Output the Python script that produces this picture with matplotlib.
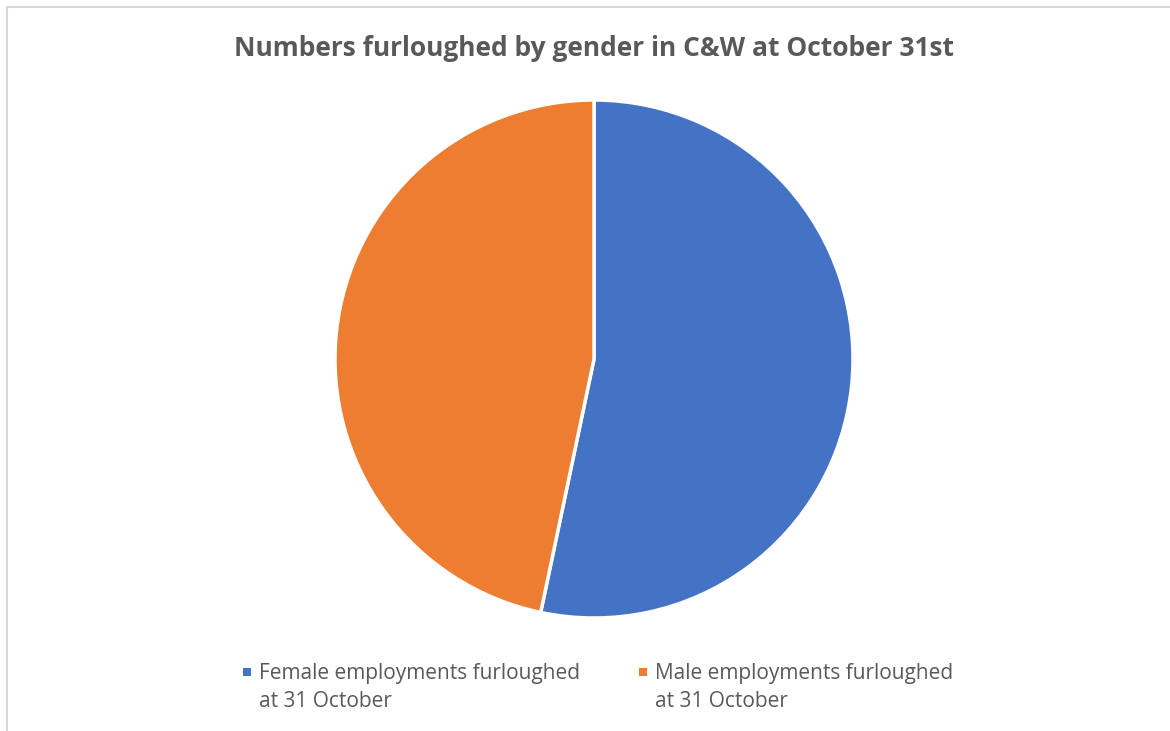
import matplotlib.pyplot as plt
from matplotlib.patches import Rectangle

labels = ["Female employments furloughed\nat 31 October", "Male employments furloughed\nat 31 October"]
shares = [53.3, 46.7]
colors = ["#4472C4", "#ED7D31"]

W, H = 1170, 731
fig = plt.figure(figsize=(W / 100, H / 100), dpi=100)

def fx(px):
    return px / W

def fy(py):
    return 1 - py / H

# light grey chart frame, runs off the right and bottom edge
fig.patches.append(Rectangle((fx(7), -0.1), 1.2, fy(7) + 0.1, transform=fig.transFigure,
                             fill=False, edgecolor="#d9d9d9", linewidth=1.5))

cx, cy, r = 594, 359, 259
ax = fig.add_axes([fx(cx - r), fy(cy + r), 2 * r / W, 2 * r / H])
ax.pie(shares, colors=colors, startangle=90, counterclock=False, radius=1,
       wedgeprops=dict(edgecolor="white", linewidth=2.5))
ax.set_xlim(-1, 1)
ax.set_ylim(-1, 1)
ax.set_aspect("equal")
ax.axis("off")

fig.text(fx(594), fy(56), "Numbers furloughed by gender in C&W at October 31st",
         ha="center", va="baseline", fontsize=19, fontweight="bold", color="#595959",
         family="Open Sans")

# legend drawn by hand: square key + two-line label
for lab, c, x0 in zip(labels, colors, [243, 639]):
    fig.patches.append(Rectangle((fx(x0), fy(676)), 8 / W, 8 / H, transform=fig.transFigure,
                                 facecolor=c, edgecolor="none"))
    for k, line in enumerate(lab.split("\n")):
        fig.text(fx(x0 + 16), fy(679 + 28 * k), line, ha="left", va="baseline",
                 fontsize=15, color="#595959", family="Open Sans")

fig.savefig("out.png", dpi=100, facecolor="white")
